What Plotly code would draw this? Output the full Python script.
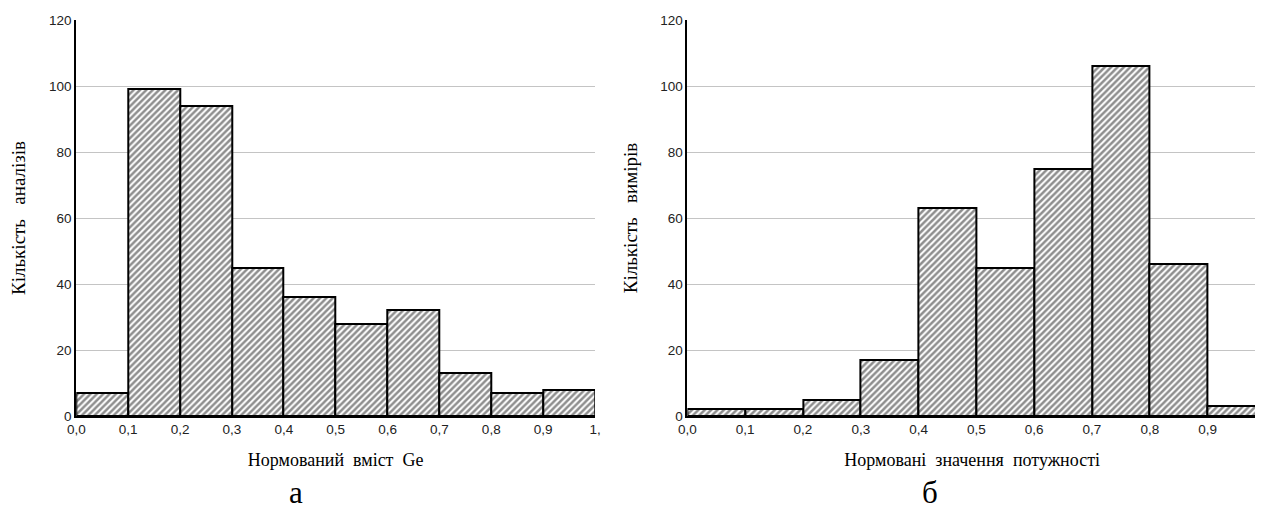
import plotly.graph_objects as go

# Data
bin_starts = [0.0, 0.1, 0.2, 0.3, 0.4, 0.5, 0.6, 0.7, 0.8, 0.9]
bin_width = 0.1
counts_ge = [7, 99, 94, 45, 36, 28, 32, 13, 7, 8]
counts_power = [2, 2, 5, 17, 63, 45, 75, 106, 46, 3]

tick_vals = [0.0, 0.1, 0.2, 0.3, 0.4, 0.5, 0.6, 0.7, 0.8, 0.9, 1.0]
tick_text = ["0,0", "0,1", "0,2", "0,3", "0,4", "0,5", "0,6", "0,7", "0,8", "0,9", "1,"]
y_ticks = [0, 20, 40, 60, 80, 100, 120]

title_a_y = "Кількість \u00a0\u00a0аналізів"
title_a_x = "Нормований \u00a0вміст \u00a0Ge"
title_b_y = "Кількість \u00a0\u00a0вимірів"
title_b_x = "Нормовані \u00a0значення \u00a0потужності"
captions = ["а", "б"]

# page body has an 8px margin, so the figure is laid out 8px smaller
OFF = 8
W, H = 1263 - OFF, 513 - OFF
serif = "Liberation Serif, Times New Roman, serif"
sans = "Liberation Sans, Arial, sans-serif"

bar_style = dict(
    marker=dict(
        color="white",
        line=dict(color="black", width=2),
        pattern=dict(shape="/", fgcolor="#1e1e1e", bgcolor="white", size=4.5, solidity=0.55),
    ),
    width=bin_width,
    offset=0,
    showlegend=False,
    hoverinfo="x+y",
)

fig = go.Figure()
fig.add_trace(go.Bar(x=bin_starts, y=counts_ge, xaxis="x", yaxis="y", **bar_style))
fig.add_trace(go.Bar(x=bin_starts, y=counts_power, xaxis="x2", yaxis="y2", **bar_style))

dom_a = [(68 - OFF) / W, (593 - OFF) / W]
dom_b = [(686.5 - OFF) / W, 1.0]
range_a = [0, 1.0]
range_b = [0, (1263 - 686.5) / 585.0]

tick_font = dict(family=sans, size=13.5, color="#222")

def xaxis_common(dom, rng, title):
    return dict(
        domain=dom, range=rng, tickvals=tick_vals, ticktext=tick_text,
        tickfont=tick_font,
        showgrid=False, zeroline=False, showline=True, linecolor="black", linewidth=2,
        ticks="", title=dict(text=title, font=dict(family=serif, size=18, color="black"), standoff=17),
        fixedrange=True,
    )

def yaxis_common(anchor, title):
    return dict(
        anchor=anchor, domain=[0, 1], range=[0, 120], tickvals=y_ticks,
        tickfont=tick_font,
        showgrid=True, gridcolor="#c4c4c4", gridwidth=1, zeroline=False,
        showline=True, linecolor="black", linewidth=2, ticks="",
        title=dict(text=title, font=dict(family=serif, size=19, color="black"), standoff=18),
        fixedrange=True,
    )

def top_axis(dom, rng, over, anchor):
    return dict(
        domain=dom, range=rng, overlaying=over, anchor=anchor, side="top",
        tickvals=tick_vals, showticklabels=False, ticks="inside", ticklen=3,
        tickcolor="black", tickwidth=1, showline=True, linecolor="black", linewidth=2,
        showgrid=False, zeroline=False, fixedrange=True,
    )

fig.update_layout(
    width=W, height=H,
    margin=dict(l=0, r=0, t=20 - OFF, b=97),
    paper_bgcolor="white", plot_bgcolor="white",
    bargap=0,
    xaxis=dict(anchor="y", **xaxis_common(dom_a, range_a, title_a_x)),
    yaxis=yaxis_common("x", title_a_y),
    xaxis2=dict(anchor="y2", **xaxis_common(dom_b, range_b, title_b_x)),
    yaxis2=yaxis_common("x2", title_b_y),
    xaxis3=top_axis(dom_a, range_a, "x", "y"),
    xaxis4=top_axis(dom_b, range_b, "x2", "y2"),
    annotations=[
        dict(text=captions[0], x=(290 - OFF) / W, y=-0.243, xref="paper", yref="paper",
             xanchor="center", yanchor="bottom",
             showarrow=False, font=dict(family=serif, size=31, color="black")),
        dict(text=captions[1], x=(932 - OFF) / W, y=-0.243, xref="paper", yref="paper",
             xanchor="center", yanchor="bottom",
             showarrow=False, font=dict(family=serif, size=31, color="black")),
    ],
)

fig.write_html("out.html")
